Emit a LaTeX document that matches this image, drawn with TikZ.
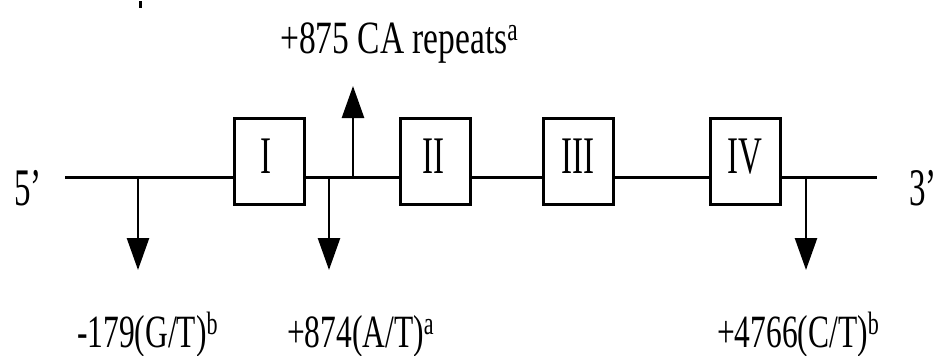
\documentclass[tikz,border=0pt]{standalone}
\usepackage{fontspec}
\setmainfont{Liberation Serif}
\usetikzlibrary{arrows.meta}

% condensed, tall lettering of the printed gene map
\newcommand{\tallt}[2][1]{\scalebox{#1}[1.38]{#2}}
\newcommand{\tallr}[1]{\scalebox{1}[1.6]{#1}}

\begin{document}
\begin{tikzpicture}[x=1pt,y=-1pt,
  exonbox/.style={draw,fill=white,line width=3pt,minimum width=70pt,minimum height=86pt,inner sep=0pt},
  gene/.style={line width=3pt},
  snp/.style={line width=2.6pt,-{Triangle[length=32pt,width=22pt]}},
  lbl/.style={inner sep=0pt,anchor=base west,font=\fontsize{33.5}{36}\selectfont},
  roman/.style={inner sep=0pt,anchor=base,font=\fontsize{33}{36}\selectfont},
  endlbl/.style={inner sep=0pt,anchor=base west,font=\fontsize{33}{36}\selectfont}]
  \useasboundingbox (0,0) rectangle (937,356);

  % gene backbone
  \coordinate (g5) at (65,177);
  \coordinate (g3) at (877,177);
  \draw[gene] (g5) -- (g3);

  % exons
  \node[exonbox] (e1) at (269,161.5) {};
  \node[exonbox] (e2) at (435,161.5) {};
  \node[exonbox] (e3) at (578.5,161.5) {};
  \node[exonbox] (e4) at (745.5,161.5) {};
  \node[roman] (n1) at (266,173) {\tallr{I}};
  \node[roman] (n2) at (433,173) {\tallr{II}};
  \node[roman] (n3) at (578,173) {\tallr{III}};
  \node[roman] (n4) at (745,173) {\tallr{IV}};

  % strand ends
  \node[endlbl] (p5) at (14,205) {\tallr{5’}};
  \node[endlbl] (p3) at (909,205) {\tallr{3’}};

  % polymorphism sites on the backbone
  \coordinate (s1) at (138,177);
  \coordinate (s2) at (329,177);
  \coordinate (s3) at (353,177);
  \coordinate (s4) at (806,177);
  \coordinate (t1) at (138,270);
  \coordinate (t2) at (329,270);
  \coordinate (t3) at (353,86);
  \coordinate (t4) at (806,270);
  \draw[snp] (s1) -- (t1);
  \draw[snp] (s2) -- (t2);
  \draw[snp] (s3) -- (t3);
  \draw[snp] (s4) -- (t4);

  % labels
  \node[lbl] (ca) at (280,53) {\tallt{+875 CA repeats\textsuperscript{a}}};
  \node[lbl] (l1) at (77,347) {\tallt[0.94]{-179(G/T)\textsuperscript{b}}};
  \node[lbl] (l2) at (287,347) {\tallt[0.94]{+874(A/T)\textsuperscript{a}}};
  \node[lbl] (l4) at (717,347) {\tallt[0.94]{+4766(C/T)\textsuperscript{b}}};

  % small mark at the top edge
  \fill (139,1) rectangle (142,8);
\end{tikzpicture}
\end{document}
